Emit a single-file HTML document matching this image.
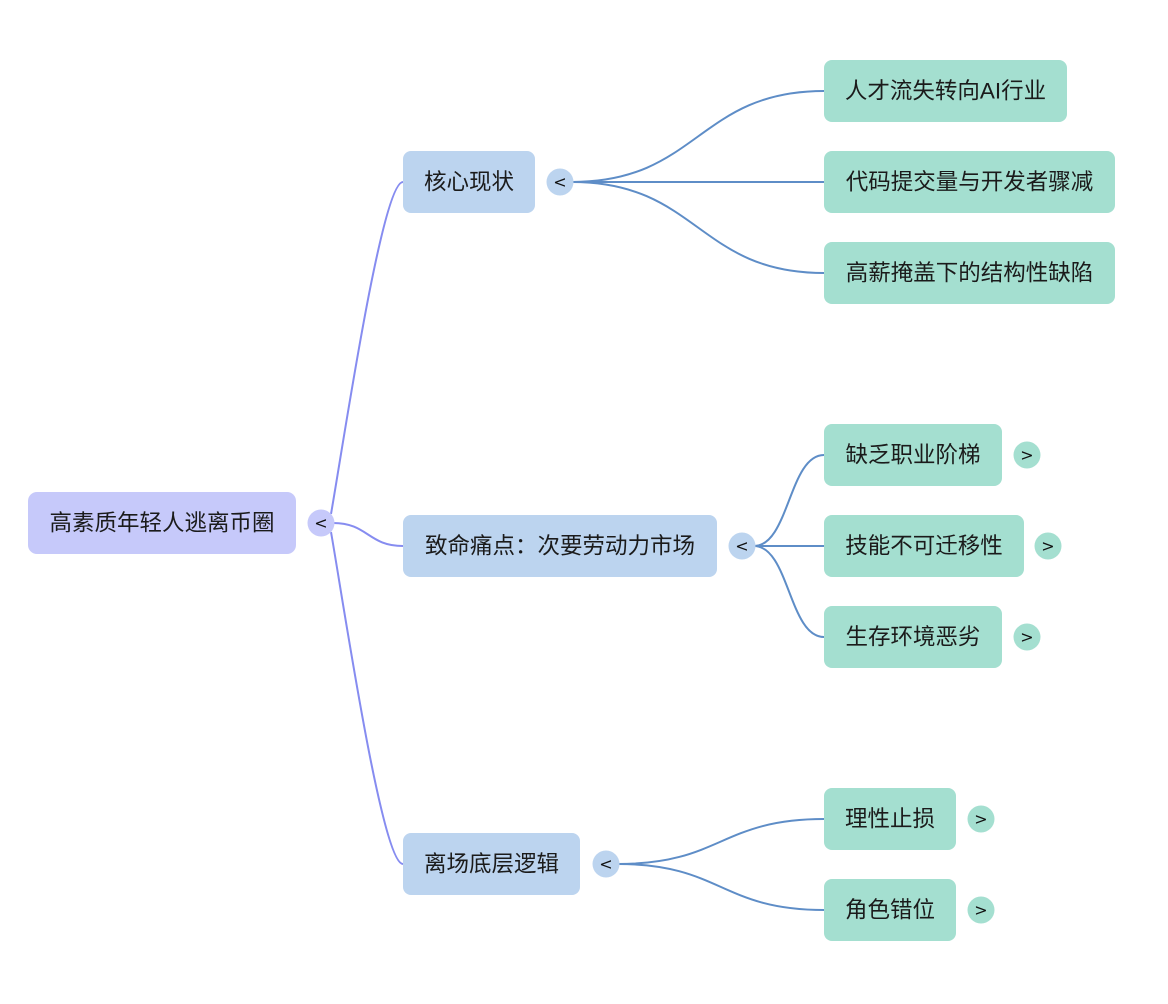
<!DOCTYPE html>
<html>
<head>
<meta charset="utf-8">
<style>
  html,body{margin:0;padding:0;background:#ffffff;}
  svg{display:block;}
  .t{font-family:"Liberation Sans","Noto Sans CJK SC",sans-serif;font-size:22.5px;fill:#1b1b1b;}
  .b{font-family:"DejaVu Sans","Liberation Sans",sans-serif;font-size:16px;fill:#111;}
</style>
</head>
<body>
<svg width="1168" height="1004" viewBox="0 0 1168 1004" xmlns="http://www.w3.org/2000/svg">
  <rect x="0" y="0" width="1168" height="1004" fill="#ffffff"/>

  <!-- root connectors -->
  <g fill="none" stroke="#868cf0" stroke-width="2">
    <path d="M 331 514 C 344 440, 382 182, 403 182"/>
    <path d="M 333 523 C 368 523, 368 546, 403 546"/>
    <path d="M 331 532 C 344 606, 382 864, 403 864"/>
  </g>

  <!-- level 2 connectors -->
  <g fill="none" stroke="#5e8dc7" stroke-width="2">
    <path d="M 572 182 C 698 182, 698 91, 824 91"/>
    <path d="M 572 182 L 824 182"/>
    <path d="M 572 182 C 698 182, 698 273, 824 273"/>

    <path d="M 754 546 C 789 546, 789 455, 824 455"/>
    <path d="M 754 546 L 824 546"/>
    <path d="M 754 546 C 789 546, 789 637, 824 637"/>

    <path d="M 618 864 C 721 864, 721 819, 824 819"/>
    <path d="M 618 864 C 721 864, 721 910, 824 910"/>
  </g>

  <!-- root -->
  <rect x="28" y="492" width="268" height="62" rx="9" fill="#c6c9fa"/>
  <text class="t" x="162" y="523" text-anchor="middle" dominant-baseline="central">高素质年轻人逃离币圈</text>
  <circle cx="321" cy="523" r="13.5" fill="#c6c9fa"/>
  <text class="b" x="321" y="523" text-anchor="middle" dominant-baseline="central">&lt;</text>

  <!-- level 2 -->
  <rect x="403" y="151" width="132" height="62" rx="8" fill="#bcd4ef"/>
  <text class="t" x="469" y="182" text-anchor="middle" dominant-baseline="central">核心现状</text>
  <circle cx="560" cy="182" r="13.5" fill="#bcd4ef"/>
  <text class="b" x="560" y="182" text-anchor="middle" dominant-baseline="central">&lt;</text>

  <rect x="403" y="515" width="314" height="62" rx="8" fill="#bcd4ef"/>
  <text class="t" x="560" y="546" text-anchor="middle" dominant-baseline="central">致命痛点：次要劳动力市场</text>
  <circle cx="742" cy="546" r="13.5" fill="#bcd4ef"/>
  <text class="b" x="742" y="546" text-anchor="middle" dominant-baseline="central">&lt;</text>

  <rect x="403" y="833" width="177" height="62" rx="8" fill="#bcd4ef"/>
  <text class="t" x="491.5" y="864" text-anchor="middle" dominant-baseline="central">离场底层逻辑</text>
  <circle cx="606" cy="864" r="13.5" fill="#bcd4ef"/>
  <text class="b" x="606" y="864" text-anchor="middle" dominant-baseline="central">&lt;</text>

  <!-- level 3 -->
  <rect x="824" y="60" width="243" height="62" rx="8" fill="#a4dfd0"/>
  <text class="t" x="945.5" y="91" text-anchor="middle" dominant-baseline="central">人才流失转向AI行业</text>

  <rect x="824" y="151" width="291" height="62" rx="8" fill="#a4dfd0"/>
  <text class="t" x="969.5" y="182" text-anchor="middle" dominant-baseline="central">代码提交量与开发者骤减</text>

  <rect x="824" y="242" width="291" height="62" rx="8" fill="#a4dfd0"/>
  <text class="t" x="969.5" y="273" text-anchor="middle" dominant-baseline="central">高薪掩盖下的结构性缺陷</text>

  <rect x="824" y="424" width="178" height="62" rx="8" fill="#a4dfd0"/>
  <text class="t" x="913" y="455" text-anchor="middle" dominant-baseline="central">缺乏职业阶梯</text>
  <circle cx="1027" cy="455" r="13.5" fill="#a4dfd0"/>
  <text class="b" x="1027" y="455" text-anchor="middle" dominant-baseline="central">&gt;</text>

  <rect x="824" y="515" width="200" height="62" rx="8" fill="#a4dfd0"/>
  <text class="t" x="924" y="546" text-anchor="middle" dominant-baseline="central">技能不可迁移性</text>
  <circle cx="1048" cy="546" r="13.5" fill="#a4dfd0"/>
  <text class="b" x="1048" y="546" text-anchor="middle" dominant-baseline="central">&gt;</text>

  <rect x="824" y="606" width="178" height="62" rx="8" fill="#a4dfd0"/>
  <text class="t" x="913" y="637" text-anchor="middle" dominant-baseline="central">生存环境恶劣</text>
  <circle cx="1027" cy="637" r="13.5" fill="#a4dfd0"/>
  <text class="b" x="1027" y="637" text-anchor="middle" dominant-baseline="central">&gt;</text>

  <rect x="824" y="788" width="132" height="62" rx="8" fill="#a4dfd0"/>
  <text class="t" x="890" y="819" text-anchor="middle" dominant-baseline="central">理性止损</text>
  <circle cx="981" cy="819" r="13.5" fill="#a4dfd0"/>
  <text class="b" x="981" y="819" text-anchor="middle" dominant-baseline="central">&gt;</text>

  <rect x="824" y="879" width="132" height="62" rx="8" fill="#a4dfd0"/>
  <text class="t" x="890" y="910" text-anchor="middle" dominant-baseline="central">角色错位</text>
  <circle cx="981" cy="910" r="13.5" fill="#a4dfd0"/>
  <text class="b" x="981" y="910" text-anchor="middle" dominant-baseline="central">&gt;</text>
</svg>
</body>
</html>
